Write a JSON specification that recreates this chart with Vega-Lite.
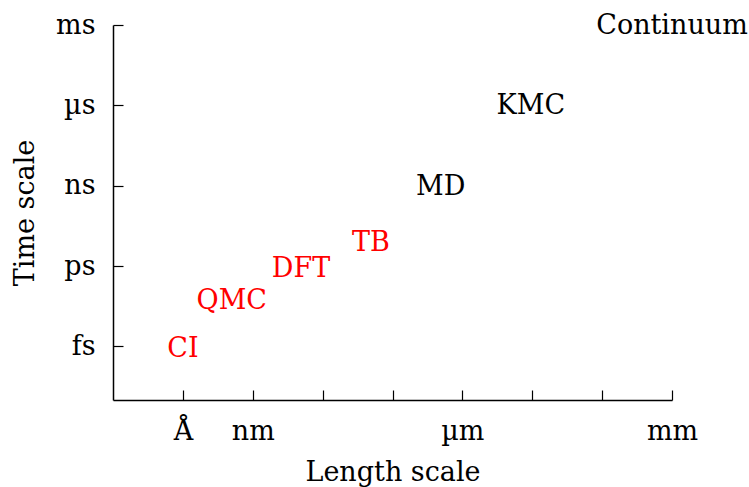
{
  "$schema": "https://vega.github.io/schema/vega-lite/v6.json",
  "width": 559,
  "height": 375,
  "autosize": "none",
  "padding": {"left": 113, "top": 25, "right": 77, "bottom": 87},
  "background": "white",
  "config": {
    "view": {"stroke": null},
    "font": "DejaVu Serif",
    "axis": {
      "labelFont": "DejaVu Serif",
      "titleFont": "DejaVu Serif",
      "labelFontSize": 27,
      "titleFontSize": 27,
      "titleFontWeight": "normal",
      "labelColor": "black",
      "titleColor": "black",
      "domainColor": "black",
      "tickColor": "black",
      "domainWidth": 1.5,
      "tickWidth": 1.2,
      "tickSize": -10,
      "grid": false
    }
  },
  "data": {
    "values": [
      {"label": "Continuum", "length": -3.0, "time": -3.04, "col": "black"},
      {"label": "KMC", "length": -5.02, "time": -6.01, "col": "black"},
      {"label": "MD", "length": -6.31, "time": -9.03, "col": "black"},
      {"label": "TB", "length": -7.31, "time": -11.12, "col": "red"},
      {"label": "DFT", "length": -8.31, "time": -12.1, "col": "red"},
      {"label": "QMC", "length": -9.3, "time": -13.31, "col": "red"},
      {"label": "CI", "length": -10.0, "time": -15.09, "col": "red"}
    ]
  },
  "mark": {"type": "text", "align": "center", "baseline": "middle", "font": "DejaVu Serif", "fontSize": 27},
  "encoding": {
    "x": {
      "field": "length",
      "type": "quantitative",
      "scale": {"domain": [-11, -3], "nice": false, "zero": false},
      "axis": {
        "title": "Length scale",
        "values": [-10, -9, -8, -7, -6, -5, -4, -3],
        "labelExpr": "datum.value == -10 ? 'Å' : datum.value == -9 ? 'nm' : datum.value == -6 ? 'µm' : datum.value == -3 ? 'mm' : ''",
        "labelPadding": 28,
        "labelFlush": false,
        "labelOverlap": false,
        "titleY": 80,
        "titleBaseline": "alphabetic"
      }
    },
    "y": {
      "field": "time",
      "type": "quantitative",
      "scale": {"domain": [-17, -3], "nice": false, "zero": false},
      "axis": {
        "title": "Time scale",
        "values": [-15, -12, -9, -6, -3],
        "labelExpr": "datum.value == -15 ? 'fs' : datum.value == -12 ? 'ps' : datum.value == -9 ? 'ns' : datum.value == -6 ? 'µs' : 'ms'",
        "labelPadding": 28,
        "labelFlush": false,
        "labelOverlap": false,
        "titleX": -80,
        "titleY": 187.5,
        "titleAngle": -90,
        "titleAlign": "center",
        "titleBaseline": "alphabetic"
      }
    },
    "text": {"field": "label"},
    "color": {"field": "col", "type": "nominal", "scale": null}
  }
}
